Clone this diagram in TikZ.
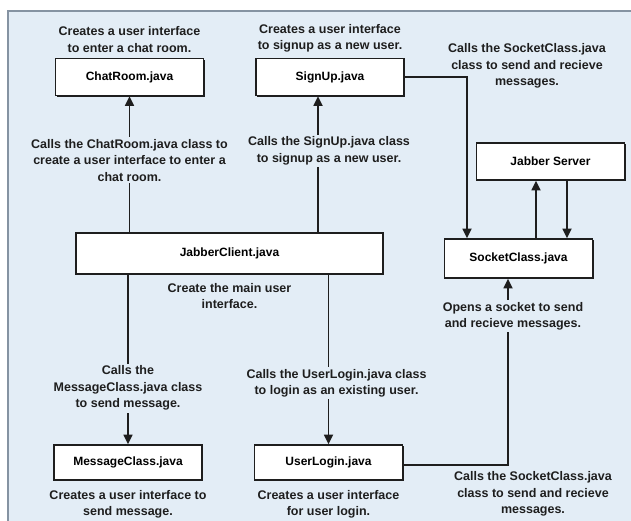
\documentclass[tikz,border=0pt]{standalone}
\usepackage{fontspec}
\setmainfont{Liberation Sans}
\usepackage{tikz}
\usetikzlibrary{arrows.meta,positioning,shadows}
\definecolor{jbback}{HTML}{E3EDF6}
\definecolor{jbframe}{HTML}{8593A2}
\definecolor{jbink}{HTML}{1E1E1E}

\begin{document}
\begin{tikzpicture}[x=1pt, y=-1pt,
  box/.style={draw=jbink, line width=1.7pt, fill=white, minimum width=148pt,
    minimum height=37pt, font=\bfseries\fontsize{12}{16.5}\selectfont, inner sep=2pt,
    drop shadow={shadow xshift=1.4pt, shadow yshift=-1.4pt, fill=jbink, opacity=1}},
  txt/.style={font=\bfseries\fontsize{12.5}{16.5}\selectfont, align=center,
    inner sep=1pt, text=jbink},
  lab/.style={txt, fill=jbback, inner sep=2pt},
  arr/.style={-{Triangle[length=9.5pt, width=9pt]}, line width=1.7pt, jbink}]
\useasboundingbox (0,0) rectangle (631,521);
\fill[jbback] (8,11) rectangle (631,521);
\draw[jbframe, line width=2pt] (631,11) -- (8,11) -- (8,521);
\node[box] (chat) at (129.5,77) {ChatRoom.java};
\node[box] (signup) at (330,77) {SignUp.java};
\node[box] (server) at (550.5,161.5) {Jabber Server};
\node[box, minimum height=39pt] (socket) at (518.5,258.5) {SocketClass.java};
\node[box, minimum width=307pt, minimum height=41pt] (client) at (229.5,253.5) {JabberClient.java};
\node[box, minimum height=35pt] (msg) at (128,462.5) {MessageClass.java};
\node[box, minimum height=35pt] (login) at (328.5,462.5) {UserLogin.java};
\node[txt, above=4pt of chat] (chatnote) {Creates a user interface\\to enter a chat room.};
\node[txt, above=4pt of signup] (signupnote) {Creates a user interface\\to signup as a new user.};
\node[txt] (sendnote) at (527,66) {Calls the SocketClass.java\\class to send and recieve\\messages.};
\node[txt, below=7pt of client] (clientnote) {Create the main user\\interface.};
\node[txt, below=8pt of msg] (msgnote) {Creates a user interface to\\send message.};
\node[txt, below=8pt of login] (loginnote) {Creates a user interface\\for user login.};
\node[txt] (recvnote) at (533,494) {Calls the SocketClass.java\\class to send and recieve\\messages.};
\coordinate (signfoot) at ([xshift=-12pt]signup.south);
\coordinate (sockin) at ([xshift=-51.5pt]socket.north);
\coordinate (sockup) at ([xshift=17.5pt]socket.north);
\coordinate (sockdown) at ([xshift=48.5pt]socket.north);
\coordinate (sockout) at ([xshift=-10.5pt]socket.south);
\draw[arr] (client.north -| chat.south) -- node[lab, pos=0.53] (chatcall)
  {Calls the ChatRoom.java class to\\create a user interface to enter a\\chat room.} (chat.south);
\draw[arr] (client.north -| signfoot) -- node[lab, pos=0.6, xshift=11pt] (signcall)
  {Calls the SignUp.java class\\to signup as a new user.} (signfoot);
\draw[arr] (signup.east) -| (sockin);
\draw[arr] (sockup) -- (sockup |- server.south);
\draw[arr] (sockdown |- server.south) -- (sockdown);
\draw[arr] (client.south -| msg.north) -- node[lab, pos=0.67] (msgcall)
  {Calls the\\MessageClass.java class\\to send message.} (msg.north);
\draw[arr] (client.south -| login.north) -- node[lab, pos=0.64, xshift=8pt] (logincall)
  {Calls the UserLogin.java class\\to login as an existing user.} (login.north);
\draw[arr] ([yshift=-2.5pt]login.east) -| node[lab, pos=0.9, xshift=5pt] (opencall)
  {Opens a socket to send\\and recieve messages.} (sockout);
\end{tikzpicture}
\end{document}
